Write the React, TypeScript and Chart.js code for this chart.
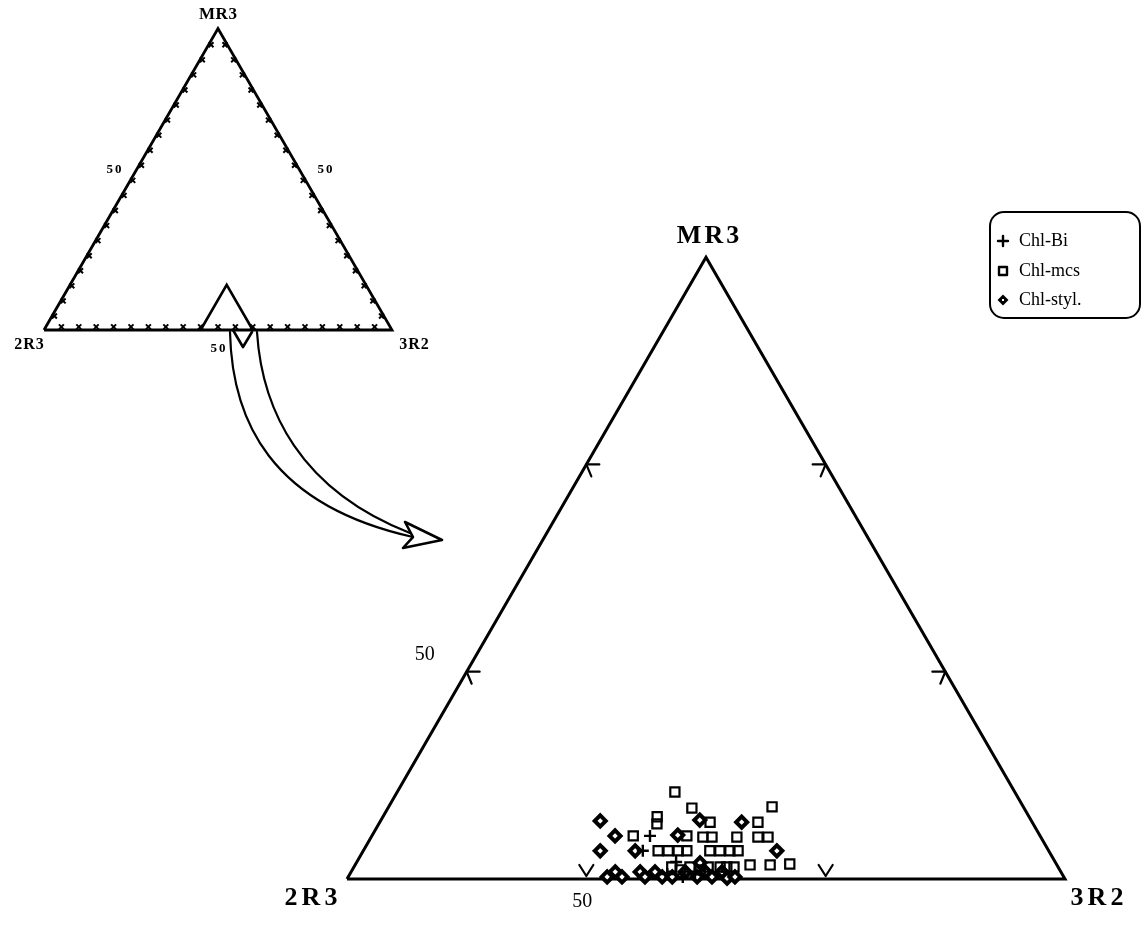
import React, { useEffect, useRef } from "react";
import { Chart, registerables } from "chart.js";

Chart.register(...registerables);

// ---------- DATA (ternary %, zoomed region: 3R2 45–60, MR3 0–15) ----------
// Each point: MR3 %, 3R2 %  (2R3 = 100 - MR3 - 3R2)
const chlBiMR3 = [1.04, 0.68, 0.12, 0.05, 0.12, 0.41];
const chlBi3R2 = [50.81, 50.84, 51.63, 51.99, 52.21, 51.67];

const chlMcsMR3 = [
  2.1, 1.71, 1.74, 1.5, 1.33, 1.37, 1.37, 1.04, 1.04, 1.01, 1.01, 1.01, 1.01, 1.01,
  0.68, 0.68, 0.68, 0.68, 0.68, 0.68, 0.68, 0.68, 0.34, 0.34, 0.36, 0.29, 0.29, 0.29,
  0.29, 0.22, 0.29, 0.22, 0.29,
];
const chlMcs3R2 = [
  50.8, 51.35, 53.01, 50.73, 50.81, 51.9, 52.9, 50.46, 51.58, 51.93, 52.12, 52.64, 53.08, 53.29,
  51.16, 51.37, 51.58, 51.76, 52.24, 52.45, 52.66, 52.83, 53.25, 53.67, 54.07, 52.65, 52.79, 52.94,
  51.64, 51.85, 52.02, 52.27, 52.4,
];

const chlStylMR3 = [
  1.4, 1.04, 0.68, 0.68, 1.06, 1.42, 1.37, 0.68, 0.39,
  0.05, 0.17, 0.05, 0.17, 0.05, 0.17, 0.05, 0.05, 0.17, 0.05, 0.17, 0.05, 0.17, 0.02, 0.05,
];
const chlStyl3R2 = [
  49.59, 50.08, 49.95, 50.68, 51.38, 51.66, 52.56, 53.64, 52.18,
  50.41, 50.52, 50.72, 51.04, 51.2, 51.35, 51.56, 51.77, 51.98, 52.29, 52.4, 52.6, 52.75, 52.93, 53.08,
];

const seriesNames = ["Chl-Bi", "Chl-mcs", "Chl-styl."];
const apexLabels = ["MR3", "2R3", "3R2"];

// zoomed window (in the full ternary) shown by the large triangle
const zoomLow3R2 = 45;
const zoomHigh3R2 = 60;
const zoomTopMR3 = 15;
const mainTicksMR3 = [5, 10];
const mainTicks3R2 = [50, 55];
const mainTickLabel = "50";

// full-diagram ticks every 5 %
const smallTicks = [5, 10, 15, 20, 25, 30, 35, 40, 45, 50, 55, 60, 65, 70, 75, 80, 85, 90, 95];
const smallTickLabel = "50";

// ---------- helpers ----------
const H = Math.sqrt(3) / 2;
const toXY = (mr3: number, r3r2: number) => ({ x: r3r2 + mr3 / 2, y: mr3 * H });

const zip = (m: number[], r: number[]) => m.map((v, i) => toXY(v, r[i]));

const SERIF = "'Liberation Serif', 'DejaVu Serif', serif";

const drawText = (
  ctx: CanvasRenderingContext2D,
  text: string,
  x: number,
  y: number,
  font: string,
  spacing = 0
) => {
  ctx.save();
  ctx.font = font;
  (ctx as any).letterSpacing = spacing + "px";
  ctx.fillStyle = "#000";
  ctx.textAlign = "center";
  ctx.textBaseline = "alphabetic";
  ctx.fillText(text, x + spacing / 2, y);
  ctx.restore();
};

const decorPlugin = {
  id: "decor",
  afterDatasetsDraw(chart: any) {
    const { ctx, scales } = chart;
    const xs = scales.x, ys = scales.y, x2 = scales.x2, y2 = scales.y2;
    const P = (p: { x: number; y: number }) => [xs.getPixelForValue(p.x), ys.getPixelForValue(p.y)];
    const Q = (p: { x: number; y: number }) => [x2.getPixelForValue(p.x), y2.getPixelForValue(p.y)];
    const Qv = (x: number, y: number) => [x2.getPixelForValue(x), y2.getPixelForValue(y)];

    ctx.save();
    ctx.strokeStyle = "#000";
    ctx.lineCap = "round";
    ctx.lineJoin = "round";

    // ---- main triangle ticks ----
    ctx.lineWidth = 2.2;
    mainTicksMR3.forEach((t) => {
      const [lx, ly] = P(toXY(t, zoomLow3R2));
      ctx.beginPath();
      ctx.moveTo(lx + 13, ly);
      ctx.lineTo(lx, ly);
      ctx.lineTo(lx + 5, ly + 12);
      ctx.stroke();
      const [rx, ry] = P(toXY(t, zoomHigh3R2 - t));
      ctx.beginPath();
      ctx.moveTo(rx - 13, ry);
      ctx.lineTo(rx, ry);
      ctx.lineTo(rx - 5, ry + 12);
      ctx.stroke();
    });
    mainTicks3R2.forEach((t) => {
      const [bx, by] = P(toXY(0, t));
      ctx.beginPath();
      ctx.moveTo(bx - 7, by - 14);
      ctx.lineTo(bx, by - 3);
      ctx.lineTo(bx + 7, by - 14);
      ctx.stroke();
    });

    // ---- curved arrow (in full-diagram units) ----
    ctx.lineWidth = 2.2;
    const bez = (a: number[], b: number[], c: number[], d: number[]) => {
      const [ax, ay] = Qv(a[0], a[1]);
      const [bx, by] = Qv(b[0], b[1]);
      const [cx, cy] = Qv(c[0], c[1]);
      const [dx, dy] = Qv(d[0], d[1]);
      ctx.beginPath();
      ctx.moveTo(ax, ay);
      ctx.bezierCurveTo(bx, by, cx, cy, dx, dy);
      ctx.stroke();
    };
    bez([53.45, -0.57], [54.02, -25.86], [64.94, -50.29], [106.03, -59.48]);
    bez([61.21, -0.57], [62.64, -22.99], [73.56, -45.98], [105.17, -58.33]);
    ctx.lineWidth = 2.6;
    const head = [
      [103.74, -55.17],
      [114.37, -60.34],
      [103.16, -62.64],
      [106.03, -59.48],
    ];
    ctx.beginPath();
    head.forEach((h, i) => {
      const [px, py] = Qv(h[0], h[1]);
      if (i === 0) ctx.moveTo(px, py);
      else ctx.lineTo(px, py);
    });
    ctx.closePath();
    ctx.stroke();
    // V under zoom window
    ctx.lineWidth = 2.6;
    ctx.beginPath();
    let v = Qv(54.31, 0);
    ctx.moveTo(v[0], v[1]);
    v = Qv(57.18, -4.89);
    ctx.lineTo(v[0], v[1]);
    v = Qv(59.77, -0.57);
    ctx.lineTo(v[0], v[1]);
    ctx.stroke();

    // ---- labels: small diagram ----
    const sBold = (s: number) => `bold ${s}px ${SERIF}`;
    let p = Q(toXY(100, 0));
    drawText(ctx, apexLabels[0], p[0], p[1] - 10, sBold(17), 0.5);
    p = Q(toXY(0, 0));
    drawText(ctx, apexLabels[1], p[0] - 15, p[1] + 19, sBold(16), 1);
    p = Q(toXY(0, 100));
    drawText(ctx, apexLabels[2], p[0] + 22, p[1] + 19, sBold(16), 1);
    p = Q(toXY(50, 0));
    drawText(ctx, smallTickLabel, p[0] - 17, p[1] - 6, sBold(13), 2);
    p = Q(toXY(50, 50));
    drawText(ctx, smallTickLabel, p[0] + 20, p[1] - 6, sBold(13), 2);
    p = Q(toXY(0, 50));
    drawText(ctx, smallTickLabel, p[0], p[1] + 22, sBold(13), 2);

    // ---- labels: main diagram ----
    p = P(toXY(zoomTopMR3, zoomLow3R2));
    drawText(ctx, apexLabels[0], p[0] + 2, p[1] - 14, sBold(26), 3);
    p = P(toXY(0, zoomLow3R2));
    drawText(ctx, apexLabels[1], p[0] - 36, p[1] + 26, sBold(26), 4);
    p = P(toXY(0, zoomHigh3R2));
    drawText(ctx, apexLabels[2], p[0] + 32, p[1] + 26, sBold(26), 4);
    p = P(toXY(0, mainTicks3R2[0]));
    drawText(ctx, mainTickLabel, p[0] - 4, p[1] + 28, `20px ${SERIF}`);
    p = P(toXY(mainTicksMR3[0], zoomLow3R2));
    drawText(ctx, mainTickLabel, p[0] - 42, p[1] - 12, `20px ${SERIF}`);

    // ---- legend ----
    const lx = 990, ly = 212, lw = 150, lh = 106;
    ctx.lineWidth = 2;
    ctx.beginPath();
    (ctx as any).roundRect(lx, ly, lw, lh, 14);
    ctx.stroke();
    const rows = [241, 271, 300];
    rows.forEach((ry, i) => {
      const sx = lx + 13;
      ctx.lineWidth = 2.4;
      if (i === 0) {
        ctx.beginPath();
        ctx.moveTo(sx - 5, ry);
        ctx.lineTo(sx + 5, ry);
        ctx.moveTo(sx, ry - 5);
        ctx.lineTo(sx, ry + 5);
        ctx.stroke();
      } else if (i === 1) {
        ctx.strokeRect(sx - 4, ry - 4, 8, 8);
      } else {
        ctx.fillStyle = "#000";
        ctx.beginPath();
        ctx.moveTo(sx, ry - 5.5);
        ctx.lineTo(sx + 5.5, ry);
        ctx.lineTo(sx, ry + 5.5);
        ctx.lineTo(sx - 5.5, ry);
        ctx.closePath();
        ctx.fill();
        ctx.fillStyle = "#fff";
        ctx.fillRect(sx - 1, ry - 1, 2, 2);
      }
      ctx.save();
      ctx.font = `18px ${SERIF}`;
      ctx.fillStyle = "#000";
      ctx.textAlign = "left";
      ctx.textBaseline = "middle";
      ctx.fillText(seriesNames[i], lx + 29, ry);
      ctx.restore();
    });

    ctx.restore();
  },
};

export default function App() {
  const ref = useRef<HTMLCanvasElement | null>(null);

  useEffect(() => {
    if (!ref.current) return;

    const fullTri = [toXY(0, 0), toXY(0, 100), toXY(100, 0), toXY(0, 0)];
    const zoomWin = [toXY(0, zoomLow3R2), toXY(zoomTopMR3, zoomLow3R2), toXY(0, zoomHigh3R2)];
    const ticks: { x: number; y: number }[] = [];
    smallTicks.forEach((t) => {
      const b = toXY(0, t);
      ticks.push({ x: b.x, y: b.y + 0.9 });
      const l = toXY(t, 0);
      ticks.push({ x: l.x + 0.5, y: l.y - 0.3 });
      const r = toXY(t, 100 - t);
      ticks.push({ x: r.x - 0.5, y: r.y - 0.3 });
    });
    const mainTri = [
      toXY(0, zoomLow3R2),
      toXY(0, zoomHigh3R2),
      toXY(zoomTopMR3, zoomLow3R2),
      toXY(0, zoomLow3R2),
    ];

    const chart = new Chart(ref.current, {
      type: "scatter",
      data: {
        datasets: [
          {
            label: seriesNames[0],
            data: zip(chlBiMR3, chlBi3R2),
            pointStyle: "cross",
            pointRadius: 6,
            borderWidth: 2.4,
            borderColor: "#000",
            backgroundColor: "#000",
          },
          {
            label: seriesNames[1],
            data: zip(chlMcsMR3, chlMcs3R2),
            pointStyle: "rect",
            pointRadius: 6.5,
            borderWidth: 2.2,
            borderColor: "#000",
            backgroundColor: "rgba(0,0,0,0)",
          },
          {
            label: seriesNames[2],
            data: zip(chlStylMR3, chlStyl3R2),
            pointStyle: "rectRot",
            pointRadius: 5.5,
            borderWidth: 4,
            borderColor: "#000",
            backgroundColor: "#fff",
          },
          {
            label: "main",
            data: mainTri,
            showLine: true,
            pointRadius: 0,
            borderWidth: 3,
            borderColor: "#000",
            tension: 0,
          },
          {
            label: "full",
            data: fullTri,
            xAxisID: "x2",
            yAxisID: "y2",
            showLine: true,
            pointRadius: 0,
            borderWidth: 2.8,
            borderColor: "#000",
            tension: 0,
          },
          {
            label: "zoom",
            data: zoomWin,
            xAxisID: "x2",
            yAxisID: "y2",
            showLine: true,
            pointRadius: 0,
            borderWidth: 2.6,
            borderColor: "#000",
            tension: 0,
          },
          {
            label: "ticks",
            data: ticks,
            xAxisID: "x2",
            yAxisID: "y2",
            pointStyle: "crossRot",
            pointRadius: 3.5,
            borderWidth: 2,
            borderColor: "#000",
          },
        ],
      },
      options: {
        responsive: false,
        animation: false,
        events: [],
        layout: { padding: 0, autoPadding: false },
        plugins: { legend: { display: false }, tooltip: { enabled: false } },
        scales: {
          x: { type: "linear", display: false, min: 37.751, max: 61.692 },
          y: { type: "linear", display: false, min: -0.982, max: 18.362 },
          x2: { type: "linear", display: false, position: "top", min: -12.64, max: 316.67 },
          y2: { type: "linear", display: false, position: "right", min: -171.26, max: 94.83 },
        },
      },
      plugins: [decorPlugin],
    });
    return () => chart.destroy();
  }, []);

  return (
    <div style={{ position: "absolute", left: 0, top: 0, width: 1146, height: 926, background: "#fff" }}>
      <canvas ref={ref} width={1146} height={926} />
    </div>
  );
}
